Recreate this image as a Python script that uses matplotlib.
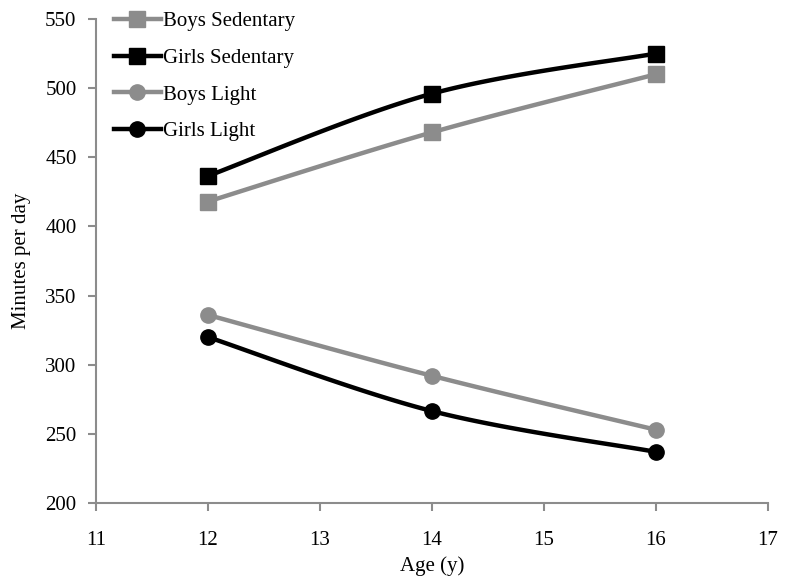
import numpy as np
import matplotlib
matplotlib.use("Agg")
import matplotlib.pyplot as plt
from matplotlib.lines import Line2D

ages = [12, 14, 16]
boys_sed = [418, 468, 510]
girls_sed = [436.5, 496, 525]
boys_light = [336, 292, 253]
girls_light = [320, 266.5, 237]

series = [
    ("Boys Sedentary", boys_sed, "#8c8c8c", "s"),
    ("Girls Sedentary", girls_sed, "#000000", "s"),
    ("Boys Light", boys_light, "#8c8c8c", "o"),
    ("Girls Light", girls_light, "#000000", "o"),
]

plt.rcParams['font.family'] = ['Liberation Serif', 'DejaVu Serif']
FS = 15

def smooth(xs, ys, n=40):
    pts = np.column_stack([xs, ys]).astype(float)
    out = [pts[0]]
    for i in range(len(pts) - 1):
        p0 = pts[i - 1] if i > 0 else pts[i]
        p1 = pts[i]
        p2 = pts[i + 1]
        p3 = pts[i + 2] if i + 2 < len(pts) else pts[i + 1]
        c1 = p1 + (p2 - p0) / 6.0
        c2 = p2 - (p3 - p1) / 6.0
        t = np.linspace(0, 1, n)[1:, None]
        b = ((1 - t) ** 3) * p1 + 3 * ((1 - t) ** 2) * t * c1 + 3 * (1 - t) * t ** 2 * c2 + t ** 3 * p2
        out.extend(b)
    out = np.array(out)
    return out[:, 0], out[:, 1]

fig = plt.figure(figsize=(7.85, 5.83), dpi=100)
ax = fig.add_axes([0.1223, 0.1372, 0.8557, 0.8302])

handles = []
for name, vals, col, mk in series:
    sx, sy = smooth(ages, vals)
    ax.plot(sx, sy, color=col, lw=3.2, solid_capstyle='round', zorder=2)
    ax.plot(ages, vals, linestyle='none', marker=mk, color=col, markersize=11, zorder=3)
    handles.append(Line2D([0], [0], color=col, lw=3.2, marker=mk, markersize=11))

ax.set_xlim(11, 17)
ax.set_ylim(200, 550)
ax.set_xticks(range(11, 18))
ax.set_yticks(range(200, 551, 50))

gray = "#8c8c8c"
for s in ["top", "right"]:
    ax.spines[s].set_visible(False)
for s in ["left", "bottom"]:
    ax.spines[s].set_color(gray)
    ax.spines[s].set_linewidth(1.5)
ax.tick_params(axis='both', direction='out', color=gray, width=1.5, length=6,
               labelsize=FS, labelcolor='black')
ax.tick_params(axis='x', pad=14)
ax.tick_params(axis='y', pad=8)

ax.set_xlabel("Age (y)", fontsize=FS, labelpad=5)
ax.set_ylabel("Minutes per day", fontsize=FS, labelpad=10)

leg = ax.legend(handles, [s[0] for s in series], loc='upper left',
                bbox_to_anchor=(0.005, 1.045), frameon=False, fontsize=FS,
                handlelength=2.25, handletextpad=0.12, labelspacing=0.82,
                borderaxespad=0.3)

fig.savefig("out.png", dpi=100)
